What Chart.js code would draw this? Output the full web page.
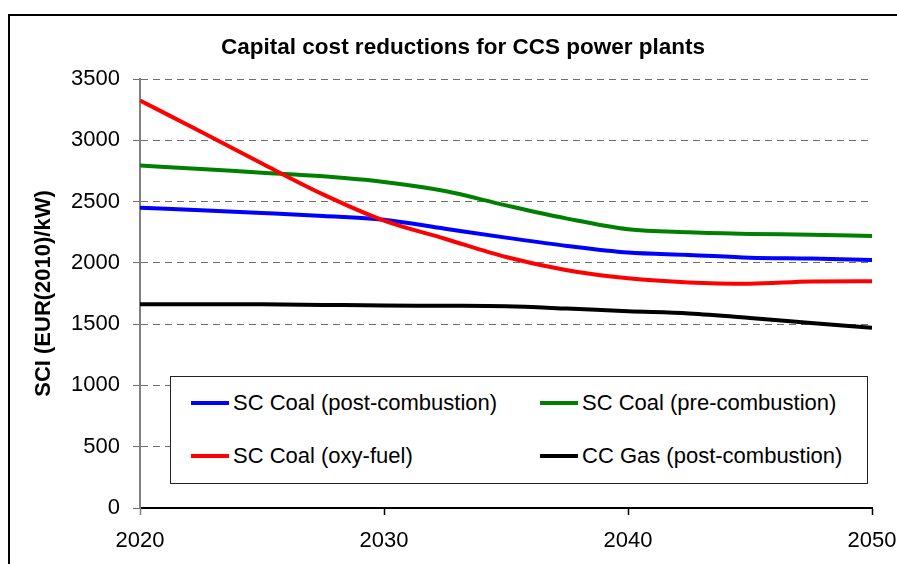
<!DOCTYPE html>
<html>
<head>
<meta charset="utf-8">
<script src="https://cdn.jsdelivr.net/npm/chart.js@4.4.0/dist/chart.umd.min.js"></script>
<style>
html, body { margin: 0; padding: 0; background: #fff; overflow: hidden; }
#wrap { position: relative; width: 897px; height: 564px; overflow: hidden; }
#frame { position: absolute; left: 8px; top: 14px; width: 1000px; height: 1000px; border: 2px solid #000; }
#c { position: absolute; left: 0; top: 0; }
#legend { position: absolute; left: 170px; top: 376px; width: 696px; height: 106px; border: 1px solid #222; background: #fff;
          font-family: "Liberation Sans", Arial, sans-serif; font-size: 22px; color: #000; }
.item { position: absolute; display: flex; align-items: center; height: 26px; white-space: nowrap; }
.swatch { width: 38px; height: 4px; margin-right: 4px; }
</style>
</head>
<body>
<div id="wrap">
  <div id="frame"></div>
  <canvas id="c" width="897" height="564"></canvas>
  <div id="legend"></div>
</div>
<script>
// values, every 2.5 years
var years = [2020, 2022.5, 2025, 2027.5, 2030, 2032.5, 2035, 2037.5, 2040, 2042.5, 2045, 2047.5, 2050];
var scCoalPost = [2450, 2429, 2407, 2383, 2352, 2279, 2206, 2138, 2084, 2065, 2042, 2035, 2024];
var scCoalPre  = [2795, 2765, 2736, 2706, 2660, 2586, 2469, 2361, 2274, 2249, 2236, 2230, 2219];
var scCoalOxy  = [3325, 3069, 2810, 2559, 2345, 2197, 2048, 1940, 1874, 1840, 1830, 1848, 1850];
var ccGasPost  = [1663, 1663, 1662, 1657, 1652, 1650, 1646, 1627, 1605, 1587, 1551, 1510, 1470];

var seriesNames = ["SC Coal (post-combustion)", "SC Coal (pre-combustion)", "SC Coal (oxy-fuel)", "CC Gas (post-combustion)"];
var seriesColors = ["#0000ff", "#008000", "#ff0000", "#000000"];
var xTicks = [2020, 2030, 2040, 2050];
var yTicks = [0, 500, 1000, 1500, 2000, 2500, 3000, 3500];

function toPoints(values) {
    var pts = [];
    for (var i = 0; i < years.length; i++) {
        pts.push({x: years[i], y: values[i]});
    }
    return pts;
}

var allSeries = [scCoalPost, scCoalPre, scCoalOxy, ccGasPost];
var datasets = [];
allSeries.forEach(function(values, i) {
    datasets.push({
        label: seriesNames[i],
        data: toPoints(values),
        borderColor: seriesColors[i],
        backgroundColor: seriesColors[i],
        borderWidth: 4,
        pointRadius: 0,
        cubicInterpolationMode: 'monotone',
        order: i == 2 ? 0 : 1
    });
});

Chart.defaults.font.family = '"Liberation Sans", Arial, sans-serif';
Chart.defaults.font.size = 22;
Chart.defaults.color = '#000';

var ctx = document.getElementById("c").getContext("2d");
var chart = new Chart(ctx, {
    type: 'line',
    data: { datasets: datasets },
    options: {
        responsive: false,
        animation: false,
        layout: { padding: { left: 29, right: 0, top: 0, bottom: 0 } },
        plugins: {
            legend: { display: false },
            tooltip: { enabled: false },
            title: {
                display: true,
                text: 'Capital cost reductions for CCS power plants',
                color: '#000',
                font: { size: 22.5, weight: 'bold' },
                padding: { top: 34, bottom: 18 }
            }
        },
        scales: {
            x: {
                type: 'linear',
                min: xTicks[0],
                max: xTicks[xTicks.length - 1],
                afterBuildTicks: function(scale) {
                    scale.ticks = xTicks.map(function(v) { return {value: v}; });
                },
                afterFit: function(scale) {
                    scale.height = 56;
                    // keep the plot right edge where the reference has it
                    scale.paddingRight = 25;
                    scale.paddingLeft = 0;
                },
                ticks: {
                    padding: 13,
                    maxRotation: 0,
                    callback: function(v) { return String(v); }
                },
                grid: {
                    drawOnChartArea: false,
                    tickLength: 7,
                    tickWidth: 1.5,
                    tickColor: function(c) { return c.index === 0 ? '#808080' : '#000'; }
                },
                border: { color: '#000', width: 2 }
            },
            y: {
                min: yTicks[0],
                max: yTicks[yTicks.length - 1],
                afterBuildTicks: function(scale) {
                    scale.ticks = yTicks.map(function(v) { return {value: v}; });
                },
                afterFit: function(scale) { scale.width = 111; },
                ticks: {
                    padding: 13,
                    callback: function(v) { return String(v); }
                },
                title: {
                    display: true,
                    text: 'SCI (EUR(2010)/kW)',
                    color: '#000',
                    font: { size: 22, weight: 'bold' },
                    padding: { top: 2, bottom: 0 }
                },
                grid: {
                    color: '#6e6e6e',
                    lineWidth: 1,
                    tickLength: 7,
                    tickColor: '#6e6e6e',
                    tickBorderDash: []
                },
                border: { color: '#808080', width: 2, dash: [7, 5] }
            }
        }
    }
});

// legend box drawn from the datasets, 2 columns
var legendEl = document.getElementById("legend");
var itemPos = [[20, 13], [369, 13], [20, 66], [369, 66]];
chart.data.datasets.forEach(function(ds, i) {
    var item = document.createElement("div");
    item.className = "item";
    item.style.left = itemPos[i][0] + "px";
    item.style.top = itemPos[i][1] + "px";
    var sw = document.createElement("span");
    sw.className = "swatch";
    sw.style.background = ds.borderColor;
    var txt = document.createElement("span");
    txt.textContent = ds.label;
    item.appendChild(sw);
    item.appendChild(txt);
    legendEl.appendChild(item);
});
</script>
</body>
</html>
